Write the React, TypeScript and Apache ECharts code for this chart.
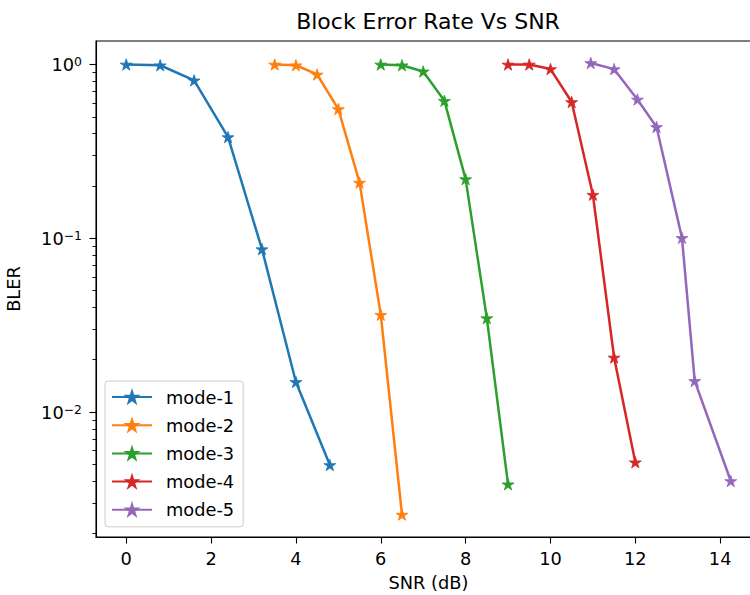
import React, { useEffect, useRef } from "react";
import * as echarts from "echarts";

const seriesNames = ["mode-1", "mode-2", "mode-3", "mode-4", "mode-5"];
const xMode1 = [0, 0.8, 1.6, 2.4, 3.2, 4.0, 4.8];
const yMode1 = [1.0, 0.99, 0.81, 0.382, 0.0865, 0.0149, 0.00496];
const xMode2 = [3.5, 4.0, 4.5, 5.0, 5.5, 6.0, 6.5];
const yMode2 = [1.0, 0.99, 0.876, 0.554, 0.209, 0.0363, 0.00257];
const xMode3 = [6.0, 6.5, 7.0, 7.5, 8.0, 8.5, 9.0];
const yMode3 = [1.0, 0.99, 0.912, 0.618, 0.219, 0.0347, 0.00384];
const xMode4 = [9.0, 9.5, 10.0, 10.5, 11.0, 11.5, 12.0];
const yMode4 = [1.0, 1.0, 0.941, 0.608, 0.178, 0.0206, 0.00514];
const xMode5 = [10.95, 11.5, 12.05, 12.5, 13.1, 13.4, 14.25];
const yMode5 = [1.02, 0.94, 0.629, 0.437, 0.1005, 0.0151, 0.00401];

const xTicks = [0, 2, 4, 6, 8, 10, 12, 14];
const yMajorTicks = [0.01, 0.1, 1];
const yMinorTicks = [
  0.002, 0.003, 0.004, 0.005, 0.006, 0.007, 0.008, 0.009,
  0.02, 0.03, 0.04, 0.05, 0.06, 0.07, 0.08, 0.09,
  0.2, 0.3, 0.4, 0.5, 0.6, 0.7, 0.8, 0.9,
];

const colors = ["#1f77b4", "#ff7f0e", "#2ca02c", "#d62728", "#9467bd"];
const FONT = "DejaVu Sans";
const STAR =
  "path://M50 0 L61.23 34.55 L97.55 34.55 L68.17 55.9 L79.39 90.45 L50 69.1 L20.61 90.45 L31.83 55.9 L2.45 34.55 L38.77 34.55 Z";

const X_MIN = -0.7125;
const X_MAX = 14.9625;
const Y_MIN = 0.00191;
const Y_MAX = 1.365;
const FS = 17.8;
const GRID_LEFT = 96;
const GRID_RIGHT = -11;
const GRID_WIDTH = 750 - GRID_LEFT - GRID_RIGHT;

export default function App() {
  const ref = useRef<HTMLDivElement>(null);
  useEffect(() => {
    if (!ref.current) return;
    const chart = echarts.init(ref.current, undefined, { renderer: "svg" });
    const xs = [xMode1, xMode2, xMode3, xMode4, xMode5];
    const ys = [yMode1, yMode2, yMode3, yMode4, yMode5];
    const series = seriesNames.map((name, i) => ({
      name,
      type: "line",
      xAxisIndex: 0,
      yAxisIndex: 0,
      data: xs[i].map((x, j) => [x, ys[i][j]]),
      symbol: STAR,
      symbolSize: 12,
      symbolKeepAspect: true,
      showSymbol: true,
      color: colors[i],
      lineStyle: { width: 2.5, color: colors[i] },
      itemStyle: { color: colors[i], borderColor: colors[i], borderWidth: 0.8 },
      z: 2 + i,
    }));
    chart.setOption({
      animation: false,
      backgroundColor: "#fff",
      textStyle: { fontFamily: FONT },
      title: {
        text: "Block Error Rate Vs SNR",
        left: 428,
        top: 10,
        padding: 0,
        textAlign: "center",
        textStyle: { fontFamily: FONT, fontSize: 22, fontWeight: "normal", color: "#000" },
      },
      grid: {
        left: GRID_LEFT,
        top: 41,
        right: GRID_RIGHT,
        bottom: 58,
        show: true,
        borderColor: "#000",
        borderWidth: 1.1,
        backgroundColor: "transparent",
        containLabel: false,
        outerBoundsMode: "none",
      },
      legend: {
        orient: "vertical",
        left: 105,
        top: 381,
        padding: [7, 9, 8, 6],
        itemWidth: 40,
        itemHeight: 14,
        itemGap: 10.2,
        backgroundColor: "rgba(255,255,255,0.8)",
        borderColor: "#cccccc",
        borderWidth: 1,
        borderRadius: 3,
        textStyle: { fontFamily: FONT, fontSize: FS, color: "#000", padding: [0, 0, 0, 9] },
        data: seriesNames,
      },
      xAxis: {
        type: "value",
        min: X_MIN,
        max: X_MAX,
        name: "SNR (dB)",
        nameLocation: "middle",
        nameGap: 36,
        nameTextStyle: { fontFamily: FONT, fontSize: FS, color: "#000" },
        axisLine: { show: true, onZero: false, lineStyle: { color: "#000", width: 1.1 } },
        axisTick: { show: true, length: 6.5, lineStyle: { color: "#000", width: 1.1 }, customValues: xTicks },
        axisLabel: { show: true, margin: 12.5, fontFamily: FONT, fontSize: FS, color: "#000", customValues: xTicks },
        splitLine: { show: false },
      },
      yAxis: [
        {
          type: "log",
          logBase: 10,
          min: Y_MIN,
          max: Y_MAX,
          position: "left",
          name: "BLER",
          nameLocation: "middle",
          nameGap: 74,
          nameTextStyle: { fontFamily: FONT, fontSize: FS, color: "#000" },
          axisLine: { show: true, onZero: false, lineStyle: { color: "#000", width: 1.1 } },
          axisTick: { show: true, length: 6.5, lineStyle: { color: "#000", width: 1.1 }, customValues: yMajorTicks },
          axisLabel: {
            show: true,
            margin: 14,
            customValues: yMajorTicks,
            formatter: (v: number) => {
              const e = Math.round(Math.log10(v));
              const s = e < 0 ? "\u2212" + -e : String(e);
              return "{b|10}{s|" + s + "}";
            },
            rich: {
              b: { fontFamily: FONT, fontSize: FS, color: "#000", lineHeight: 18, verticalAlign: "middle" },
              s: { fontFamily: FONT, fontSize: 12.4, color: "#000", lineHeight: 8, verticalAlign: "top" },
            },
          },
          splitLine: { show: false },
        },
        {
          type: "log",
          logBase: 10,
          min: Y_MIN,
          max: Y_MAX,
          position: "right",
          offset: -GRID_WIDTH,
          axisLine: { show: false, onZero: false },
          axisTick: {
            show: true,
            inside: true,
            length: 3.6,
            lineStyle: { color: "#000", width: 0.9 },
            customValues: yMinorTicks,
          },
          axisLabel: { show: false },
          splitLine: { show: false },
        },
      ],
      series,
    });
    return () => chart.dispose();
  }, []);
  return (
    <div
      ref={ref}
      style={{ position: "absolute", left: 0, top: 0, width: 750, height: 595 }}
    />
  );
}
